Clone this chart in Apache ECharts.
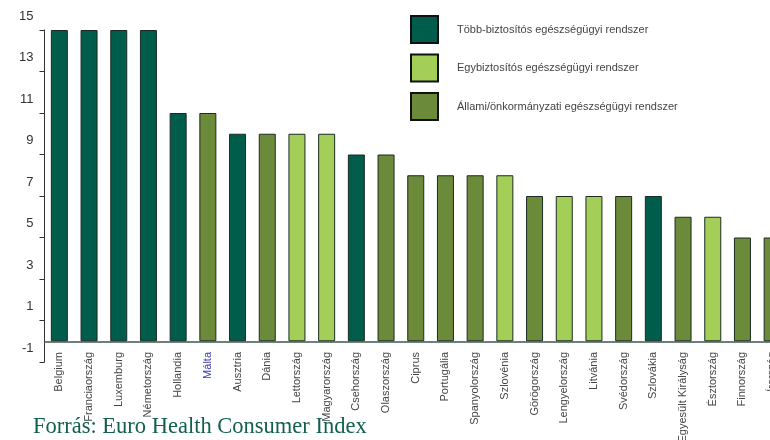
<!DOCTYPE html>
<html>
<head>
<meta charset="utf-8">
<script src="https://cdn.jsdelivr.net/npm/echarts@6/dist/echarts.min.js"></script>
<style>
  html, body { margin: 0; padding: 0; background: #fff; }
  #chart { width: 770px; height: 440px; }
</style>
</head>
<body>
<div id="chart"></div>
<script>
// országok sorrendben, ahogy az ábrán
const countries = ['Belgium', 'Franciaország', 'Luxemburg', 'Németország', 'Hollandia', 'Málta',
    'Ausztria', 'Dánia', 'Lettország', 'Magyarország', 'Csehország', 'Olaszország', 'Ciprus',
    'Portugália', 'Spanyolország', 'Szlovénia', 'Görögország', 'Lengyelország', 'Litvánia',
    'Svédország', 'Szlovákia', 'Egyesült Királyság', 'Észtország', 'Finnország', 'Írország'];
const values = [15, 15, 15, 15, 11, 11, 10, 10, 10, 10, 9, 9, 8, 8, 8, 8, 7, 7, 7, 7, 7, 6, 6, 5, 5];
// 0 = több-biztosítós, 1 = egybiztosítós, 2 = állami/önkormányzati
const systemType = [0, 0, 0, 0, 0, 2, 0, 2, 1, 1, 0, 2, 2, 2, 2, 1, 2, 1, 1, 2, 0, 2, 1, 2, 2];
const systemNames = ['Több-biztosítós egészségügyi rendszer', 'Egybiztosítós egészségügyi rendszer',
    'Állami/önkormányzati egészségügyi rendszer'];
const systemColors = ['#005c4b', '#a3cf59', '#6b8a3a'];
const yTicks = [-1, 15, 2]; // min, max, lépésköz

const chart = echarts.init(document.getElementById('chart'));

const series = systemNames.map((name, t) => ({
    name: name,
    type: 'bar',
    stack: 'all',
    barWidth: 17,
    itemStyle: { color: systemColors[t], borderColor: '#1c2b22', borderWidth: 1 },
    data: values.map((v, i) => systemType[i] === t ? v : '-')
}));

chart.setOption({
    animation: false,
    textStyle: { fontFamily: 'Liberation Sans, Arial, sans-serif' },
    grid: { left: 44.5, top: 30, width: 742.5, height: 332, outerBoundsMode: 'none' },
    legend: {
        orient: 'vertical',
        left: 410,
        top: 15,
        padding: 0,
        itemWidth: 27,
        itemHeight: 27,
        itemGap: 9.5,
        icon: 'rect',
        itemStyle: { borderColor: '#111', borderWidth: 2 },
        textStyle: { fontSize: 11, color: '#444', padding: [0, 0, 5, 14] },
        data: systemNames
    },
    xAxis: {
        type: 'category',
        data: countries,
        axisLine: { onZero: true, lineStyle: { color: '#3b5a52', width: 1.5 } },
        axisTick: { length: 4, lineStyle: { color: '#333' } },
        axisLabel: {
            interval: 0,
            rotate: 90,
            fontSize: 11,
            color: '#444',
            margin: -10,
            formatter: v => v === 'Málta' ? '{m|' + v + '}' : v,
            rich: { m: { color: '#3a3ab0', fontSize: 11 } }
        }
    },
    yAxis: {
        type: 'value',
        min: yTicks[0],
        max: yTicks[1],
        interval: yTicks[2],
        splitLine: { show: false },
        axisLine: { show: true, lineStyle: { color: '#333' } },
        axisTick: { show: true, length: 5, lineStyle: { color: '#333' } },
        axisLabel: {
            fontSize: 13,
            color: '#333',
            margin: 11,
            verticalAlign: 'bottom',
            lineHeight: 28
        }
    },
    graphic: [{
        type: 'text',
        left: 33,
        top: 416,
        style: {
            text: 'Forrás: Euro Health Consumer Index',
            font: '22.5px "Liberation Serif", "Times New Roman", serif',
            fill: '#12604e'
        }
    }],
    series: series
});
</script>
</body>
</html>
